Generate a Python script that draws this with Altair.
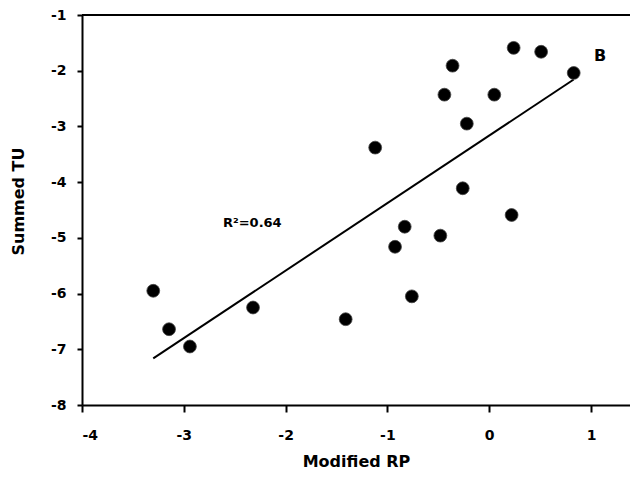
import altair as alt
import pandas as pd

rp = [-3.30, -3.145, -2.94, -2.32, -1.41, -1.12, -0.925, -0.83, -0.76, -0.48,
      -0.44, -0.36, -0.22, -0.26, 0.05, 0.22, 0.24, 0.51, 0.83]
tu = [-5.95, -6.64, -6.95, -6.25, -6.46, -3.38, -5.16, -4.80, -6.05, -4.96,
      -2.43, -1.91, -2.95, -4.11, -2.43, -4.59, -1.59, -1.66, -2.04]

x_ticks = [-4, -3, -2, -1, 0, 1]
y_ticks = [-8, -7, -6, -5, -4, -3, -2, -1]

labels_text = ["R\u00b2=0.64", "B"]
labels_x = [-2.615, 1.03]
labels_y = [-4.73, -1.73]

df = pd.DataFrame({"rp": rp, "tu": tu})
lab = pd.DataFrame({"t": labels_text, "x": labels_x, "y": labels_y})

FONT = "DejaVu Sans"

xs = alt.Scale(domain=[-4, 1.383], nice=False, zero=False)
ys = alt.Scale(domain=[-8, -1], nice=False, zero=False)

xaxis = alt.Axis(values=x_ticks, labelExpr="'' + datum.value", tickSize=7,
                 labelPadding=16, titlePadding=11, title="Modified RP")
yaxis = alt.Axis(values=y_ticks, labelExpr="'' + datum.value", tickSize=5,
                 labelPadding=11, titlePadding=24, titleY=186, title="Summed TU")

base = alt.Chart(df)

points = base.mark_circle(size=165, color="black", opacity=1, stroke="#444", strokeWidth=0.8).encode(
    x=alt.X("rp:Q", scale=xs, axis=xaxis),
    y=alt.Y("tu:Q", scale=ys, axis=yaxis),
)

fit = base.transform_regression("rp", "tu").mark_line(color="black", strokeWidth=2).encode(
    x=alt.X("rp:Q", scale=xs),
    y=alt.Y("tu:Q", scale=ys),
)

top = alt.Chart(df).mark_rule(color="black", strokeWidth=2).encode(y=alt.datum(-1, scale=ys))

text_r = alt.Chart(lab.iloc[[0]]).mark_text(font=FONT, fontWeight="bold", fontSize=13,
                                            align="left", baseline="middle").encode(
    x=alt.X("x:Q", scale=xs), y=alt.Y("y:Q", scale=ys), text="t:N")
text_b = alt.Chart(lab.iloc[[1]]).mark_text(font=FONT, fontWeight="bold", fontSize=16,
                                            align="left", baseline="middle").encode(
    x=alt.X("x:Q", scale=xs), y=alt.Y("y:Q", scale=ys), text="t:N")

chart = alt.layer(top, fit, points, text_r, text_b).properties(
    width=548, height=390,
    autosize=alt.AutoSizeParams(type="none"),
    padding={"left": 74, "top": 7, "right": 0, "bottom": 66},
    background="white",
).configure_view(stroke=None).configure_axis(
    grid=False, domainColor="black", domainWidth=2, tickColor="black", tickWidth=2,
    labelFont=FONT, labelFontWeight="bold", labelFontSize=14, labelColor="black",
    titleFont=FONT, titleFontWeight="bold", titleFontSize=16, titleColor="black",
)

chart.save("out.html", embed_options={"renderer": "svg", "actions": False})
